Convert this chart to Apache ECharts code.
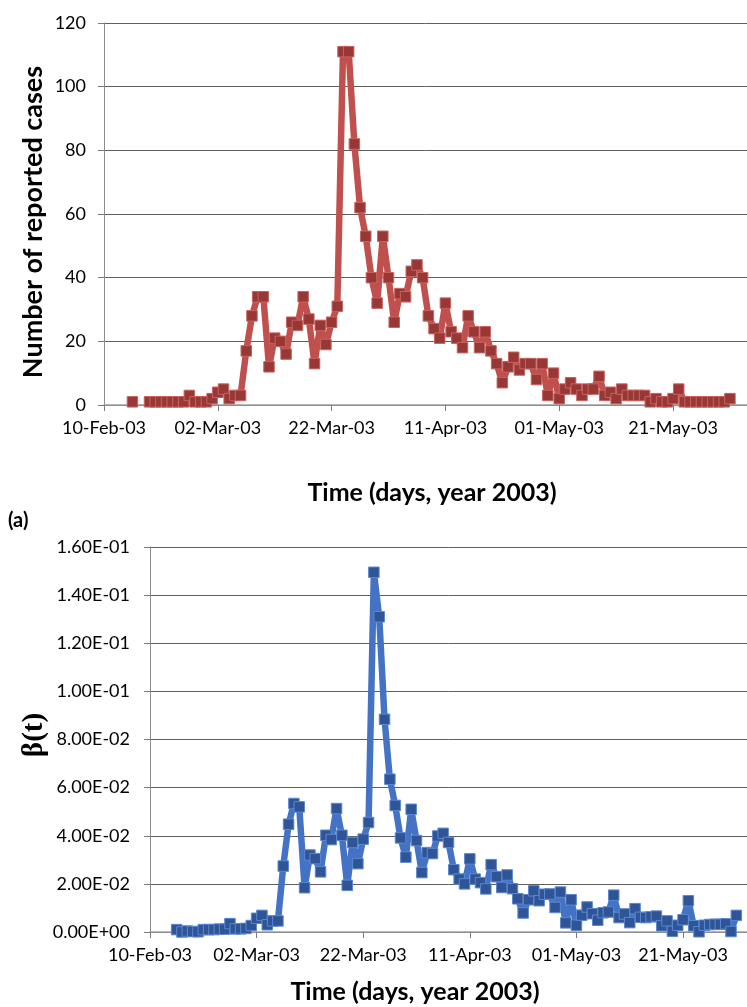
<!DOCTYPE html>
<html>
<head>
<meta charset="utf-8">
<script src="https://cdn.jsdelivr.net/npm/echarts@6/dist/echarts.min.js"></script>
<style>
  html, body { margin: 0; padding: 0; background: #ffffff; }
  #chart { width: 747px; height: 1007px; }
</style>
</head>
<body>
<div id="chart"></div>
<script>
// ---- data (day offsets from 10-Feb-2003) ----
const firstDay = 5;
const tickLabels = ['10-Feb-03', '02-Mar-03', '22-Mar-03', '11-Apr-03', '01-May-03', '21-May-03'];
const caseTicks = [0, 20, 40, 60, 80, 100, 120];
const betaTicks = [0, 0.02, 0.04, 0.06, 0.08, 0.10, 0.12, 0.14, 0.16];

// reported cases, day 5 .. day 110
const cases = [
  1, null, null, 1, 1, 1, 1, 1, 1, 1,
  3, 1, 1, 1, 2, 4, 5, 2, 3, 3,
  17, 28, 34, 34, 12, 21, 20, 16, 26, 25,
  34, 27, 13, 25, 19, 26, 31, 111, 111, 82,
  62, 53, 40, 32, 53, 40, 26, 35, 34, 42,
  44, 40, 28, 24, 21, 32, 23, 21, 18, 28,
  23, 18, 23, 17, 13, 7, 12, 15, 11, 13,
  13, 8, 13, 3, 10, 2, 5, 7, 5, 3,
  5, 5, 9, 3, 4, 2, 5, 3, 3, 3,
  3, 1, 2, 1, 1, 2, 5, 1, 1, 1,
  1, 1, 1, 1, 1, 2
];

// beta(t), day 5 .. day 110
const beta = [
  0.0010, 0.0000, 0.0004, 0.0002, 0.0001, 0.0010, 0.0010, 0.0010, 0.0012, 0.0012,
  0.0035, 0.0013, 0.0013, 0.0015, 0.0027, 0.0057, 0.0069, 0.0030, 0.0046, 0.0046,
  0.0274, 0.0448, 0.0534, 0.0520, 0.0184, 0.0320, 0.0305, 0.0250, 0.0402, 0.0384,
  0.0513, 0.0402, 0.0194, 0.0372, 0.0284, 0.0386, 0.0455, 0.1495, 0.1310, 0.0884,
  0.0635, 0.0526, 0.0391, 0.0311, 0.0510, 0.0380, 0.0247, 0.0330, 0.0326, 0.0399,
  0.0410, 0.0372, 0.0259, 0.0220, 0.0200, 0.0304, 0.0220, 0.0205, 0.0179, 0.0280,
  0.0230, 0.0185, 0.0237, 0.0180, 0.0138, 0.0079, 0.0134, 0.0171, 0.0130, 0.0157,
  0.0158, 0.0102, 0.0166, 0.0038, 0.0134, 0.0028, 0.0070, 0.0104, 0.0076, 0.0049,
  0.0080, 0.0083, 0.0153, 0.0060, 0.0075, 0.0039, 0.0097, 0.0061, 0.0060, 0.0063,
  0.0066, 0.0026, 0.0046, 0.0003, 0.0028, 0.0051, 0.0130, 0.0026, 0.0001, 0.0028,
  0.0031, 0.0032, 0.0032, 0.0034, 0.0002, 0.0069
];

// ---- helpers ----
const caseData = cases.map((v, i) => [firstDay + i, v]);
const betaData = beta.map((v, i) => [firstDay + i, v]);

function dateLabel(v) {
  const k = Math.round(v / 20);
  if (Math.abs(v - k * 20) > 1e-6) return '';
  return tickLabels[k] || '';
}
function sci(v) {
  if (Math.abs(v) < 1e-12) return '0.00E+00';
  let e = Math.floor(Math.log10(Math.abs(v)) + 1e-9);
  let m = v / Math.pow(10, e);
  if (m >= 9.995) { m /= 10; e += 1; }
  const sign = e < 0 ? '-' : '+';
  const ae = Math.abs(e);
  return m.toFixed(2) + 'E' + sign + (ae < 10 ? '0' + ae : '' + ae);
}

const tickFont = 'Lato';
const labelColor = '#000000';
const gridColor = '#5e5e5e';

const chart = echarts.init(document.getElementById('chart'), null, { renderer: 'canvas' });

const option = {
  animation: false,
  backgroundColor: '#ffffff',
  grid: [
    { left: 104, top: 23, width: 643, height: 382, containLabel: false },
    { left: 150, top: 547, width: 597, height: 385, containLabel: false }
  ],
  xAxis: [
    {
      gridIndex: 0, type: 'value', min: 0, max: 113, interval: 20,
      axisLine: { show: true, lineStyle: { color: '#a0a0a0', width: 1.5 } },
      axisTick: { show: true, length: 6, lineStyle: { color: '#7a7a7a' } },
      axisLabel: { formatter: dateLabel, showMaxLabel: false, margin: 14,
        fontFamily: tickFont, fontSize: 18, color: labelColor },
      splitLine: { show: false }
    },
    {
      gridIndex: 1, type: 'value', min: 0, max: 112, interval: 20,
      axisLine: { show: true, lineStyle: { color: '#a0a0a0', width: 1.5 } },
      axisTick: { show: true, length: 6, lineStyle: { color: '#7a7a7a' } },
      axisLabel: { formatter: dateLabel, showMaxLabel: false, margin: 14,
        fontFamily: tickFont, fontSize: 18, color: labelColor },
      splitLine: { show: false }
    }
  ],
  yAxis: [
    {
      gridIndex: 0, type: 'value', min: caseTicks[0], max: caseTicks[caseTicks.length - 1], interval: 20,
      axisLine: { show: true, lineStyle: { color: '#8c8c8c', width: 1 } },
      axisTick: { show: true, length: 6, lineStyle: { color: '#7a7a7a' } },
      axisLabel: { margin: 18, fontFamily: tickFont, fontSize: 18, color: labelColor },
      splitLine: { show: true, lineStyle: { color: gridColor, width: 1 } }
    },
    {
      gridIndex: 1, type: 'value', min: betaTicks[0], max: betaTicks[betaTicks.length - 1], interval: 0.02,
      axisLine: { show: true, lineStyle: { color: '#8c8c8c', width: 1 } },
      axisTick: { show: true, length: 6, lineStyle: { color: '#7a7a7a' } },
      axisLabel: { margin: 20, formatter: sci, fontFamily: tickFont, fontSize: 18, color: labelColor },
      splitLine: { show: true, lineStyle: { color: gridColor, width: 1 } }
    }
  ],
  series: [
    {
      type: 'line', xAxisIndex: 0, yAxisIndex: 0, data: caseData,
      connectNulls: false, showAllSymbol: true, symbol: 'rect', symbolSize: 10.5,
      lineStyle: { color: '#C0504D', width: 6.5 },
      itemStyle: { color: '#983836', borderColor: '#C8625F', borderWidth: 1 },
      z: 3
    },
    {
      type: 'line', xAxisIndex: 1, yAxisIndex: 1, data: betaData,
      showAllSymbol: true, symbol: 'rect', symbolSize: 10.5,
      lineStyle: { color: '#4472C4', width: 6.5 },
      itemStyle: { color: '#2F5597', borderColor: '#5B87D2', borderWidth: 1 },
      z: 3
    }
  ],
  graphic: [
    { type: 'text', x: 432, y: 493,
      style: { text: 'Time (days, year 2003)', font: 'bold 25px Lato', fill: '#000', align: 'center', verticalAlign: 'middle' } },
    { type: 'text', x: 33, y: 222, rotation: Math.PI / 2,
      style: { text: 'Number of reported cases', font: 'bold 27px Lato', fill: '#000', align: 'center', verticalAlign: 'middle' } },
    { type: 'text', x: 8, y: 521,
      style: { text: '(a)', font: 'bold 20px Lato', fill: '#000', align: 'left', verticalAlign: 'middle' } },
    { type: 'text', x: 35, y: 735, rotation: Math.PI / 2,
      style: { text: '\u03b2(t)', font: 'bold 29px "Liberation Serif"', fill: '#000', align: 'center', verticalAlign: 'middle' } },
    { type: 'text', x: 415, y: 992,
      style: { text: 'Time (days, year 2003)', font: 'bold 25px Lato', fill: '#000', align: 'center', verticalAlign: 'middle' } }
  ]
};

chart.setOption(option);
</script>
</body>
</html>
